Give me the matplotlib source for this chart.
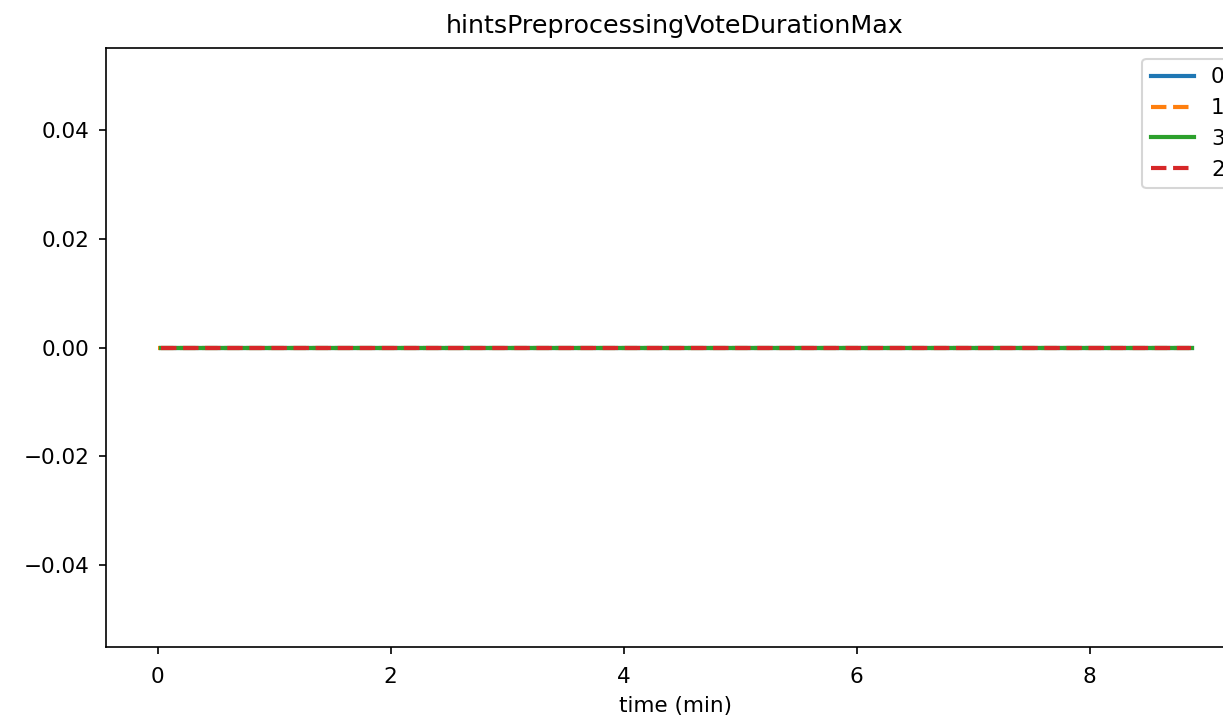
import matplotlib
matplotlib.use('Agg')
import matplotlib.pyplot as plt

title = 'hintsPreprocessingVoteDurationMax'
labels = ['0', '1', '3', '2']
styles = ['-', '--', '-', '--']
colors = ['tab:blue', 'tab:orange', 'tab:green', 'tab:red']

# time (min) for each series; all values stay at zero
times = {
    '0': [0.03, 1.0, 2.0, 3.0, 4.0, 5.0, 6.0, 7.0, 8.0, 8.88],
    '1': [0.0, 1.0, 2.0, 3.0, 4.0, 5.0, 6.0, 7.0, 8.0, 8.87],
    '3': [0.03, 1.0, 2.0, 3.0, 4.0, 5.0, 6.0, 7.0, 8.0, 8.88],
    '2': [0.03, 1.0, 2.0, 3.0, 4.0, 5.0, 6.0, 7.0, 8.0, 8.87],
}
values = {
    '0': [0, 0, 0, 0, 0, 0, 0, 0, 0, 0],
    '1': [0, 0, 0, 0, 0, 0, 0, 0, 0, 0],
    '3': [0, 0, 0, 0, 0, 0, 0, 0, 0, 0],
    '2': [0, 0, 0, 0, 0, 0, 0, 0, 0, 0],
}

plt.rcParams['font.size'] = 10.3
plt.rcParams['xtick.major.pad'] = 6.3
plt.rcParams['ytick.major.pad'] = 4.5

fig = plt.figure(figsize=(1223 / 150, 721 / 150), dpi=150)
ax = fig.add_axes([106 / 1223, 74 / 721, (1244 - 106) / 1223, (647 - 48) / 721])

for key, ls, c in zip(labels, styles, colors):
    ax.plot(times[key], values[key], ls, color=c, lw=2, label=key)

ax.set_title(title, fontsize=12.2, pad=7)
ax.set_xlabel('time (min)')
ax.legend(loc='upper right')

fig.savefig('out.png', dpi=150)
